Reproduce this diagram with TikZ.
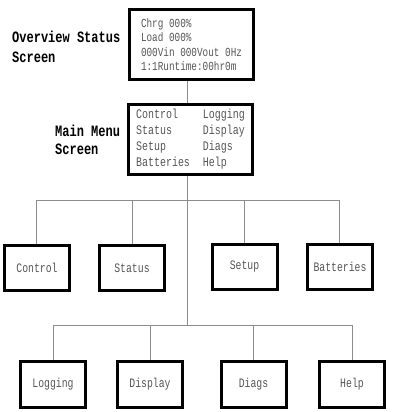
\documentclass[tikz,border=0pt]{standalone}
\usepackage{fontspec}
\newfontfamily\scrfont{Liberation Mono}[FakeStretch=0.76]
\usetikzlibrary{calc}
\definecolor{txtgray}{HTML}{555555}
\definecolor{linegray}{HTML}{8C8C8C}
\tikzset{
  scr/.style={draw=black, line width=3pt, fill=white, inner sep=0pt},
  menubox/.style={scr, minimum width=65pt, minimum height=45pt,
    font=\scrfont\fontsize{12.9}{14}\selectfont, text=txtgray},
  conn/.style={draw=linegray, line width=1pt},
  lbl/.style={font=\scrfont\bfseries\fontsize{15.8}{20}\selectfont, align=left, anchor=west, inner sep=0pt}
}
\begin{document}
\begin{tikzpicture}[x=1pt,y=-1pt]
\useasboundingbox (0,0) rectangle (408,412);
% screens
\node[scr, minimum width=124pt, minimum height=70pt, align=left,
  font=\scrfont\fontsize{12.3}{14.3}\selectfont, text=txtgray] (ov) at (191.5,44.5)
  {Chrg 000\%\\Load 000\%\\000Vin 000Vout 0Hz\\1:1Runtime:00hr0m};
\node[scr, minimum width=124pt, minimum height=70pt,
  font=\scrfont\fontsize{13.1}{16}\selectfont, text=txtgray] (mm) at (190.5,139.5)
  {\begin{tabular}{@{}l@{\hspace{13pt}}l@{}}Control & Logging\\Status & Display\\Setup & Diags\\Batteries & Help\end{tabular}};
% labels
\node[lbl] (ovl) at (12,47) {Overview Status\\Screen};
\node[lbl, font=\scrfont\bfseries\fontsize{15.8}{18}\selectfont] (mml) at (55,140) {Main Menu\\Screen};
% first row
\node[menubox] (ctrl) at (37,268) {Control};
\node[menubox] (stat) at (132,268) {Status};
\node[menubox] (setup) at (244.5,267) {Setup};
\node[menubox] (batt) at (340,267) {Batteries};
% second row
\node[menubox, minimum height=46pt] (log) at (53,384.5) {Logging};
\node[menubox, minimum height=46pt] (disp) at (150,384.5) {Display};
\node[menubox, minimum height=46pt] (diag) at (253.5,384.5) {Diags};
\node[menubox, minimum height=46pt] (help) at (352,384.5) {Help};
% hubs
\coordinate (h1) at (187,200);
\coordinate (h2) at (187,325);
\draw[conn] (ov.south -| h1) -- (mm.north -| h1);
\draw[conn] (mm.south -| h1) -- (h2);
\draw[conn] (h1 -| 36,0) -- (h1 -| 339,0);
\draw[conn] (h1 -| 36,0) -- (ctrl.north -| 36,0);
\draw[conn] (h1 -| stat) -- (stat.north);
\draw[conn] (h1 -| setup) -- (setup.north);
\draw[conn] (h1 -| 339,0) -- (batt.north -| 339,0);
\draw[conn] (h2 -| log) -- (h2 -| help);
\draw[conn] (h2 -| log) -- (log.north);
\draw[conn] (h2 -| disp) -- (disp.north);
\draw[conn] (h2 -| diag) -- (diag.north);
\draw[conn] (h2 -| help) -- (help.north);
\end{tikzpicture}
\end{document}
